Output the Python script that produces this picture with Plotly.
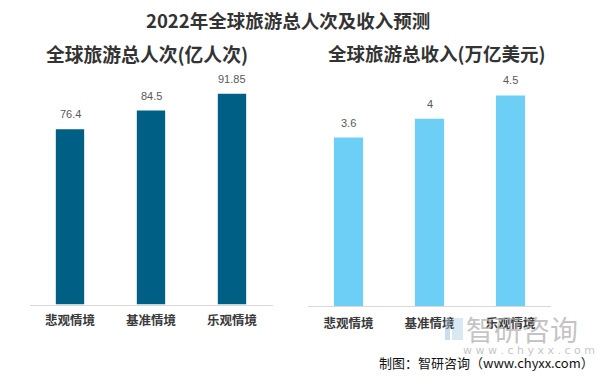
import plotly.graph_objects as go

categories = ["悲观情境", "基准情境", "乐观情境"]
visitors = [76.4, 84.5, 91.85]          # 亿人次
revenue = [3.6, 4, 4.5]                 # 万亿美元
visitor_labels = ["76.4", "84.5", "91.85"]
revenue_labels = ["3.6", "4", "4.5"]

title = "2022年全球旅游总人次及收入预测"
sub_left = "全球旅游总人次(亿人次)"
sub_right = "全球旅游总收入(万亿美元)"
source = "制图：智研咨询（www.chyxx.com）"

W, H = 601, 377
FONT = "Noto Sans CJK SC"

fig = go.Figure()
fig.add_trace(go.Bar(x=categories, y=visitors, width=0.35,
                     marker=dict(color="#005F85", line=dict(width=0)),
                     xaxis="x", yaxis="y", showlegend=False, hoverinfo="skip"))
fig.add_trace(go.Bar(x=categories, y=revenue, width=0.36,
                     marker=dict(color="#6DCFF6", line=dict(width=0)),
                     xaxis="x2", yaxis="y2", showlegend=False, hoverinfo="skip"))

ann = []
for c, v, t in zip(categories, visitors, visitor_labels):
    ann.append(dict(x=c, y=v, xref="x", yref="y", text=t, showarrow=False,
                    yanchor="bottom", yshift=7,
                    font=dict(size=11, color="#595959", family="Liberation Sans")))
for c, v, t in zip(categories, revenue, revenue_labels):
    ann.append(dict(x=c, y=v, xref="x2", yref="y2", text=t, showarrow=False,
                    yanchor="bottom", yshift=7,
                    font=dict(size=11, color="#595959", family="Liberation Sans")))

def px(x, y):
    return x / W, 1 - y / H

tx, ty = px(288, 20)
ann.append(dict(x=tx, y=ty, xref="paper", yref="paper", text="<b>" + title + "</b>",
                showarrow=False, xanchor="center", yanchor="middle",
                font=dict(size=18.5, color="#333333", family=FONT)))
sx, sy = px(147, 53)
ann.append(dict(x=sx, y=sy, xref="paper", yref="paper", text="<b>" + sub_left + "</b>",
                showarrow=False, xanchor="center", yanchor="middle",
                font=dict(size=18.8, color="#333333", family=FONT)))
sx, sy = px(437, 53)
ann.append(dict(x=sx, y=sy, xref="paper", yref="paper", text="<b>" + sub_right + "</b>",
                showarrow=False, xanchor="center", yanchor="middle",
                font=dict(size=18.5, color="#333333", family=FONT)))
# watermark
wx, wy = px(522, 329)
ann.append(dict(x=wx, y=wy, xref="paper", yref="paper", text="智研咨询",
                showarrow=False, xanchor="center", yanchor="middle",
                font=dict(size=28, color="rgba(170,170,170,0.7)", family=FONT)))
wx, wy = px(529, 350)
ann.append(dict(x=wx, y=wy, xref="paper", yref="paper", text="w w w . c h y x x . c o m",
                showarrow=False, xanchor="center", yanchor="middle",
                font=dict(size=11, color="rgba(170,170,170,0.7)", family="DejaVu Sans")))
# source
rx, ry = px(596, 362)
ann.append(dict(x=rx, y=ry, xref="paper", yref="paper", text=source,
                showarrow=False, xanchor="right", yanchor="middle",
                font=dict(size=13, color="#111111", family=FONT)))

# logo-ish watermark shapes
shapes = [
    dict(type="rect", xref="paper", yref="paper",
         x0=445 / W, x1=450 / W, y0=1 - 340 / H, y1=1 - 318 / H,
         fillcolor="rgba(150,190,220,0.5)", line=dict(width=0)),
    dict(type="rect", xref="paper", yref="paper",
         x0=452 / W, x1=463 / W, y0=1 - 340 / H, y1=1 - 318 / H,
         fillcolor="rgba(150,190,220,0.35)", line=dict(width=0)),
]

cat_font = dict(size=12.5, color="#3a3a3a", family=FONT)

fig.update_layout(
    width=W, height=H, autosize=False,
    margin=dict(l=0, r=0, t=0, b=0),
    paper_bgcolor="white", plot_bgcolor="white",
    bargap=0.65,
    xaxis=dict(domain=[29.5 / W, 272.5 / W], anchor="y", showline=True,
               linecolor="#d9d9d9", linewidth=1, showgrid=False, ticks="",
               tickfont=cat_font, ticklabelstandoff=4, fixedrange=True),
    yaxis=dict(domain=[1 - 304.5 / H, 1 - 75 / H], anchor="x", range=[0, 100],
               visible=False, showgrid=False, fixedrange=True),
    xaxis2=dict(domain=[308 / W, 551 / W], anchor="y2", showline=True,
                linecolor="#d9d9d9", linewidth=1, showgrid=False, ticks="",
                tickfont=cat_font, ticklabelstandoff=6, fixedrange=True),
    yaxis2=dict(domain=[1 - 306 / H, 1 - 72 / H], anchor="x2", range=[0, 5],
                visible=False, showgrid=False, fixedrange=True),
    annotations=ann,
    shapes=shapes,
)

fig.update_xaxes(tickvals=categories, ticktext=["<b>" + c + "</b>" for c in categories])

fig.write_html("out.html", config={"displayModeBar": False},
               post_script="document.body.style.margin='0';document.body.style.overflow='hidden';")
